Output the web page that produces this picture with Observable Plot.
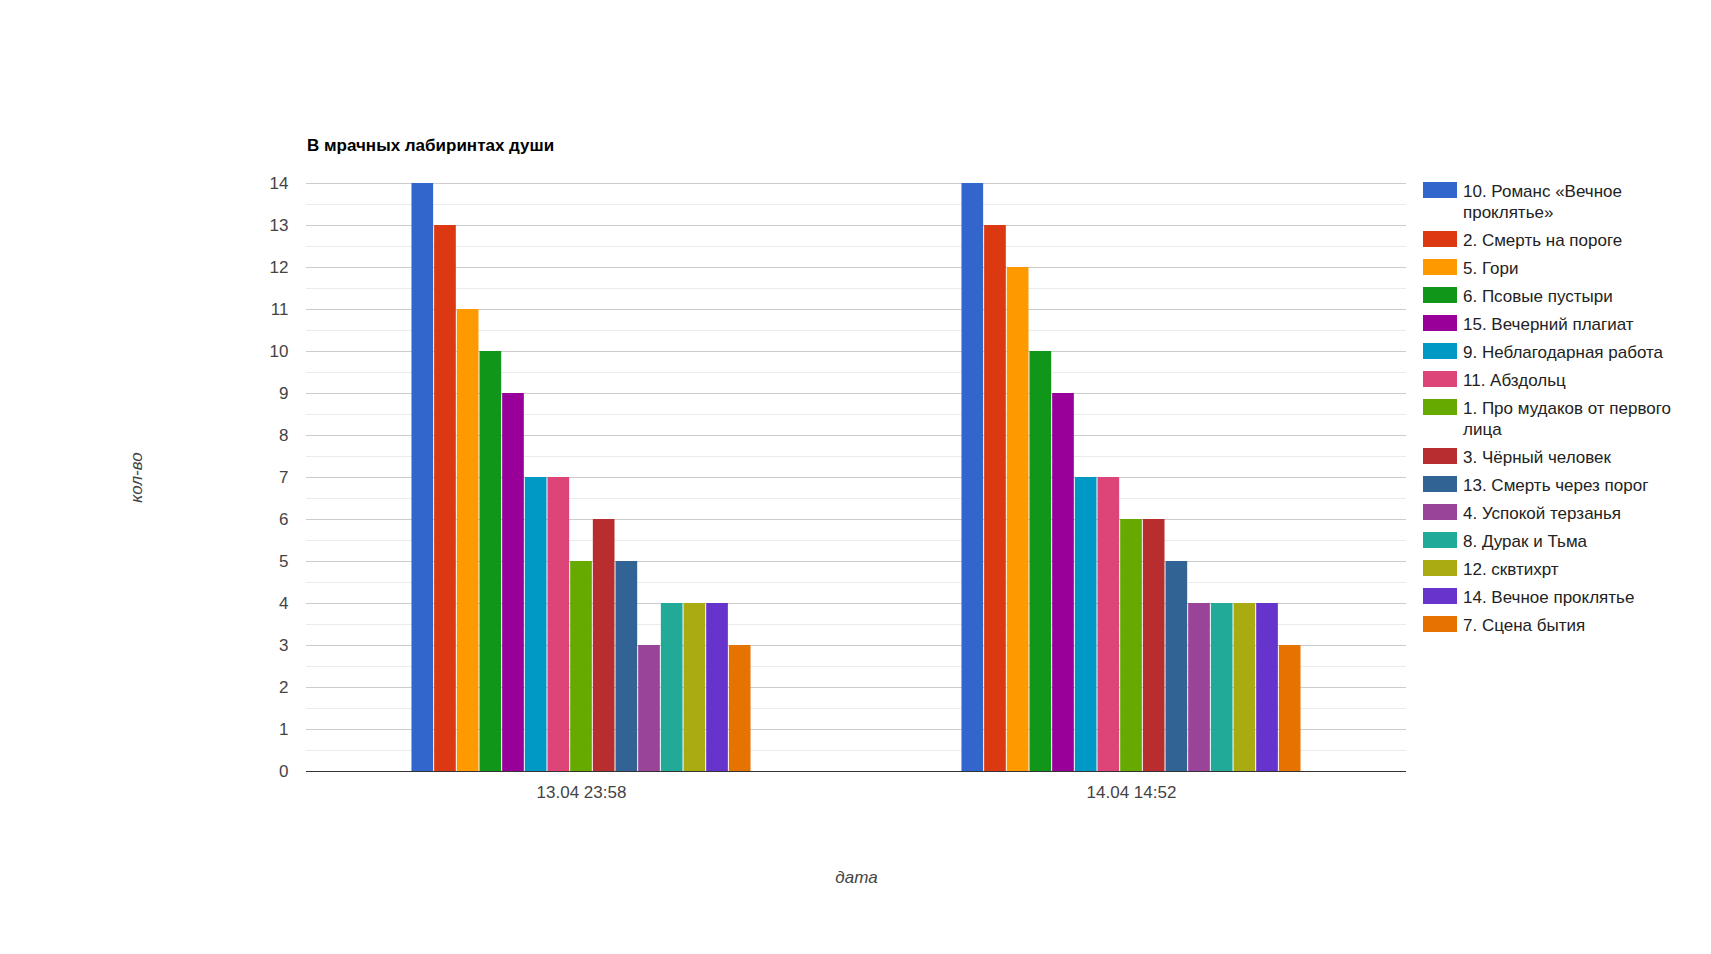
<!DOCTYPE html>
<html>
<head>
<meta charset="utf-8">
<script src="https://cdn.jsdelivr.net/npm/d3@7"></script>
<script src="https://cdn.jsdelivr.net/npm/@observablehq/plot@0.6"></script>
<style>
  html, body { margin: 0; padding: 0; background: #fff; }
  #wrap { position: relative; width: 1711px; height: 954px; font-family: Arial, "Liberation Sans", sans-serif; }
  #title { position: absolute; left: 307px; top: 137px; font-size: 17px; line-height: 1; font-weight: bold; color: #000; }
  #legend { position: absolute; left: 1423px; top: 181px; width: 270px; }
  .item { display: flex; align-items: flex-start; margin-bottom: 7px; }
  .sw { width: 34px; height: 16px; flex: none; margin-top: 1px; margin-right: 6px; }
  .lab { font-size: 17px; line-height: 21px; color: #222; max-width: 228px; }
  svg [aria-label="y-axis label"] text, svg [aria-label="fx-axis label"] text,
  svg [aria-label="y-axis label"], svg [aria-label="fx-axis label"] { font-style: italic; }
</style>
</head>
<body>
<div id="wrap">
  <div id="chart"></div>
  <div id="title"></div>
  <div id="legend"></div>
</div>
<script>
const chartTitle = "В мрачных лабиринтах души";
const series = [
  "10. Романс «Вечное проклятье»",
  "2. Смерть на пороге",
  "5. Гори",
  "6. Псовые пустыри",
  "15. Вечерний плагиат",
  "9. Неблагодарная работа",
  "11. Абздольц",
  "1. Про мудаков от первого лица",
  "3. Чёрный человек",
  "13. Смерть через порог",
  "4. Успокой терзанья",
  "8. Дурак и Тьма",
  "12. сквтихрт",
  "14. Вечное проклятье",
  "7. Сцена бытия"
];
const dates = ["13.04 23:58", "14.04 14:52"];
const values1 = [14, 13, 11, 10, 9, 7, 7, 5, 6, 5, 3, 4, 4, 4, 3];
const values2 = [14, 13, 12, 10, 9, 7, 7, 6, 6, 5, 4, 4, 4, 4, 3];
const colors = ["#3366cc", "#dc3912", "#ff9900", "#109618", "#990099", "#0099c6", "#dd4477", "#66aa00",
                "#b82e2e", "#316395", "#994499", "#22aa99", "#aaaa11", "#6633cc", "#e67300"];
const yTicks = [0, 1, 2, 3, 4, 5, 6, 7, 8, 9, 10, 11, 12, 13, 14];
const yMinor = [0.5, 1.5, 2.5, 3.5, 4.5, 5.5, 6.5, 7.5, 8.5, 9.5, 10.5, 11.5, 12.5, 13.5];

const data = [];
[values1, values2].forEach((vals, di) => {
  vals.forEach((v, i) => data.push({date: dates[di], series: series[i], value: v}));
});

const chart = Plot.plot({
  width: 1711,
  height: 954,
  marginLeft: 306,
  marginRight: 305,
  marginTop: 183,
  marginBottom: 183,
  style: {fontFamily: 'Arial, "Liberation Sans", sans-serif', fontSize: "17px", color: "#444", background: "#fff"},
  fx: {domain: dates, padding: 0, round: false, label: "дата", tickSize: 0, tickPadding: 14, labelAnchor: "center", labelOffset: 111},
  x: {domain: series, paddingInner: 0, paddingOuter: 4.63, round: false, axis: null},
  y: {domain: [0, 14], ticks: yTicks, tickSize: 0, tickPadding: 18, label: "кол-во", labelArrow: "none", labelAnchor: "center", labelOffset: 177},
  color: {domain: series, range: colors},
  marks: [
    Plot.ruleY(yMinor, {stroke: "#ebebeb", strokeWidth: 1}),
    Plot.ruleY(yTicks.slice(1), {stroke: "#cccccc", strokeWidth: 1}),
    Plot.barY(data, {fx: "date", x: "series", y: "value", fill: "series", insetLeft: 0.5, insetRight: 0.5}),
    Plot.ruleY([0], {stroke: "#333333", strokeWidth: 1})
  ]
});
document.getElementById("chart").appendChild(chart);
document.getElementById("title").textContent = chartTitle;

const legend = document.getElementById("legend");
series.forEach((s, i) => {
  const item = document.createElement("div");
  item.className = "item";
  const sw = document.createElement("div");
  sw.className = "sw";
  sw.style.background = colors[i];
  const lab = document.createElement("div");
  lab.className = "lab";
  lab.textContent = s;
  item.appendChild(sw);
  item.appendChild(lab);
  legend.appendChild(item);
});
</script>
</body>
</html>
